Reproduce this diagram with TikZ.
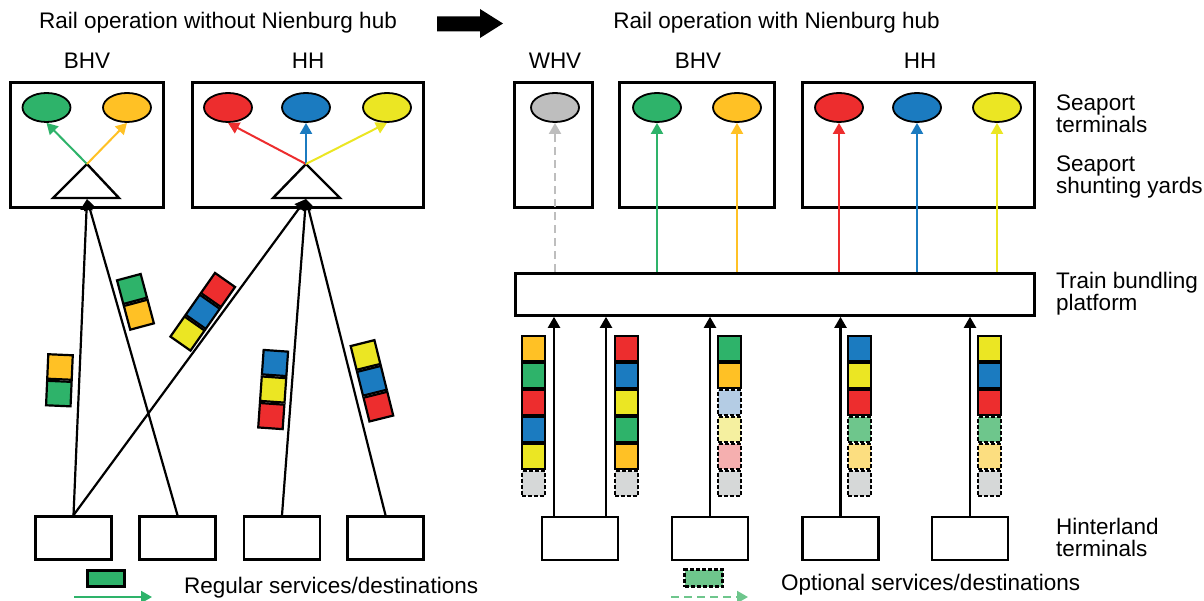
\documentclass[tikz,border=0pt]{standalone}
\usepackage{fontspec}
\setmainfont{Liberation Sans}
\usepackage{tikz}
\usetikzlibrary{arrows.meta,%
                shapes,positioning}

\definecolor{cgr}{RGB}{46,179,106}
\definecolor{cor}{RGB}{255,193,37}
\definecolor{cre}{RGB}{237,45,46}
\definecolor{cbl}{RGB}{27,123,192}
\definecolor{cye}{RGB}{235,230,35}
\definecolor{cgy}{RGB}{190,190,190}
\definecolor{lbl}{RGB}{180,204,228}
\definecolor{lye}{RGB}{245,240,160}
\definecolor{lpk}{RGB}{245,175,175}
\definecolor{lgr}{RGB}{110,198,140}
\definecolor{lor}{RGB}{252,222,128}
\definecolor{lgy}{RGB}{214,216,216}

\begin{document}
\begin{tikzpicture}[x=1pt,y=-1pt,
  font=\fontsize{22.5}{22}\selectfont,
  txt/.style={inner sep=0pt, align=left},
  yard/.style={draw, line width=2.6pt, inner sep=0pt, minimum height=125pt},
  hint/.style={draw, line width=2.6pt, inner sep=0pt, minimum width=76pt, minimum height=43pt},
  port/.style={ellipse, draw, line width=1.8pt, inner sep=0pt, minimum width=48pt, minimum height=29pt},
  cell/.style={draw, line width=2.2pt, inner sep=0pt, minimum width=23pt, minimum height=24.5pt},
  opt/.style={cell, line width=2.4pt, dash pattern=on 4pt off 2pt},
  gap/.style={dash pattern=on 8pt off 5pt},
  link/.style={line width=2pt, -{Triangle[length=11pt,width=12pt]}},
  feed/.style={line width=2.2pt, -{Triangle[length=11pt,width=12pt]}}]
\useasboundingbox (0,0) rectangle (1204,601);

% titles
\node[txt] (T1) at (218,23) {Rail operation without Nienburg hub};
\node[txt] (T2) at (776.5,23) {Rail operation with Nienburg hub};
\fill (437,16.5) -- (480,16.5) -- (480,9) -- (503,23.5) -- (480,38) -- (480,31.5) -- (437,31.5) -- cycle;

% without hub
\node[txt] (LB) at (87,61) {BHV};
\node[txt] (LH) at (308,61) {HH};
\node[yard, minimum width=153pt] (YB) at (87,145) {};
\node[yard, minimum width=231pt] (YH) at (308,145) {};
\node[port, fill=cgr] (gB) at (46.5,107.5) {};
\node[port, fill=cor] (oB) at (127,107.5) {};
\node[port, fill=cre] (rH) at (228,107.5) {};
\node[port, fill=cbl] (bH) at (306,107.5) {};
\node[port, fill=cye] (yH) at (387,107.5) {};
\draw[line width=2.4pt] (87,164) -- (119,198) -- (53,198) -- cycle;
\draw[line width=2.4pt] (306,164) -- (340,198) -- (273,198) -- cycle;
\coordinate (tB) at (87,164);
\coordinate (tH) at (306,164);
\coordinate (sB) at (87,199);
\coordinate (sH) at (306,199);
\draw[link, cgr] (tB) -- (gB.south);
\draw[link, cor] (tB) -- (oB.south);
\draw[link, cre] (tH) -- (rH.south);
\draw[link, cbl] (tH) -- (bH.south);
\draw[link, cye] (tH) -- (yH.south);

\node[hint] (h1) at (73.5,538) {};
\node[hint] (h2) at (177.5,538) {};
\node[hint] (h3) at (282,538) {};
\node[hint] (h4) at (385.5,538) {};
\draw[feed] (h1.north) -- (sB);
\draw[feed] (h2.north) -- (sB);
\draw[feed] (h1.north) -- (sH);
\draw[feed] (h3.north) -- (sH);
\draw[feed] (h4.north) -- (sH);

% wagons on the lines
\foreach \x/\y/\r/\list [count=\k] in {60/367/-2.5/{cor,cgr},
    132/289/15/{cgr,cor}, 218/290/-35/{cre,cbl,cye},
    275/363/-4/{cbl,cye,cre}, 365.5/355/14/{cye,cbl,cre}}
{
  \begin{scope}[shift={(\x,\y)}, rotate=\r, transform shape]
    \foreach \c [count=\i] in \list
      \node[cell, minimum width=24.5pt, fill=\c] (w\k-\i) at (0,{26.6*(\i-1)}) {};
  \end{scope}
}

% with hub
\node[txt] (RW) at (555,61) {WHV};
\node[txt] (RB) at (698,61) {BHV};
\node[txt] (RH) at (920,61) {HH};
\node[yard, minimum width=78pt] (ZW) at (553.5,145) {};
\node[yard, minimum width=155pt] (ZB) at (697,145) {};
\node[yard, minimum width=232pt] (ZH) at (918.5,145) {};
\node[port, fill=cgy] (cW) at (555,107.5) {};
\node[port, fill=cgr] (cG) at (657,107.5) {};
\node[port, fill=cor] (cO) at (737,107.5) {};
\node[port, fill=cre] (cR) at (839,107.5) {};
\node[port, fill=cbl] (cB) at (917,107.5) {};
\node[port, fill=cye] (cY) at (997,107.5) {};
\node[draw, line width=2.6pt, inner sep=0pt, minimum width=519pt, minimum height=42pt] (plat) at (775,294.5) {};
\draw[link, cgy, gap] (plat.north -| cW.south) -- (cW.south);
\foreach \n/\c in {cG/cgr, cO/cor, cR/cre, cB/cbl, cY/cye}
  \draw[link, \c] (plat.north -| \n.south) -- (\n.south);

\node[hint] (r1) at (580,538.5) {};
\node[hint] (r2) at (710,538.5) {};
\node[hint] (r3) at (840.5,538.5) {};
\node[hint] (r4) at (970,538.5) {};
\draw[feed] ([xshift=-26pt]r1.north) -- ([xshift=-26pt]r1.north |- plat.south);
\draw[feed] ([xshift=26pt]r1.north) -- ([xshift=26pt]r1.north |- plat.south);
\draw[feed] (r2.north) -- (r2.north |- plat.south);
\draw[feed] (r3.north) -- (r3.north |- plat.south);
\draw[feed] (r4.north) -- (r4.north |- plat.south);

% bundled trains
\foreach \x/\list [count=\k] in {533.5/{cor/cell,cgr/cell,cre/cell,cbl/cell,cye/cell,lgy/opt},
    626.5/{cre/cell,cbl/cell,cye/cell,cgr/cell,cor/cell,lgy/opt},
    729.5/{cgr/cell,cor/cell,lbl/opt,lye/opt,lpk/opt,lgy/opt},
    859.5/{cbl/cell,cye/cell,cre/cell,lgr/opt,lor/opt,lgy/opt},
    989.5/{cye/cell,cbl/cell,cre/cell,lgr/opt,lor/opt,lgy/opt}}
  \foreach \c/\s [count=\i] in \list
    \node[\s, fill=\c] (t\k-\i) at (\x,{348.5+27*(\i-1)}) {};

% labels on the right
\node[txt, anchor=west] (L1) at (1056,114) {Seaport\\terminals};
\node[txt, anchor=west] (L2) at (1056,176.5) {Seaport\\shunting yards};
\node[txt, anchor=west] (L3) at (1056,293.5) {Train bundling\\platform};
\node[txt, anchor=west] (L4) at (1056,537.5) {Hinterland\\terminals};

% legend
\node[draw, line width=2.6pt, fill=cgr, inner sep=0pt, minimum width=37pt, minimum height=16pt] (k1) at (106,578.5) {};
\coordinate (a1) at (74,597);
\coordinate (b1) at (152,597);
\draw[link, cgr] (a1) -- (b1);
\node[txt, anchor=west] (K1) at (184,588) {Regular services/destinations};
\node[draw, line width=2.6pt, dash pattern=on 4pt off 2pt, fill=lgr, inner sep=0pt, minimum width=38pt, minimum height=17pt] (k2) at (703.5,578) {};
\coordinate (a2) at (671,597);
\coordinate (b2) at (748,597);
\draw[link, lgr, gap] (a2) -- (b2);
\node[txt, anchor=west] (K2) at (781,585) {Optional services/destinations};
\end{tikzpicture}
\end{document}
